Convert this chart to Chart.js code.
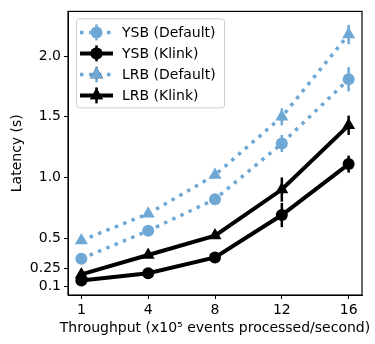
<!DOCTYPE html>
<html>
<head>
<meta charset="utf-8">
<script src="https://cdn.jsdelivr.net/npm/chart.js@4"></script>
<style>
  html, body { margin: 0; padding: 0; background: #ffffff; }
  #wrap { width: 375px; height: 344px; }
</style>
</head>
<body>
<div id="wrap"><canvas id="chart" width="375" height="344"></canvas></div>
<script>
// Throughput categories (x10^5 events/second)
const categories = ['1', '4', '8', '12', '16'];
const xTitle = 'Throughput (x10\u2075 events processed/second)';

// Latency (s) per series, with error bar half-heights
const ysbDefault = [0.33, 0.56, 0.82, 1.28, 1.81];
const ysbDefaultErr = [0.02, 0.03, 0.03, 0.07, 0.10];
const ysbKlink = [0.15, 0.21, 0.34, 0.69, 1.11];
const ysbKlinkErr = [0.02, 0.02, 0.02, 0.10, 0.07];
const lrbDefault = [0.48, 0.70, 1.02, 1.50, 2.18];
const lrbDefaultErr = [0.02, 0.02, 0.02, 0.07, 0.08];
const lrbKlink = [0.20, 0.36, 0.52, 0.90, 1.43];
const lrbKlinkErr = [0.02, 0.02, 0.02, 0.10, 0.08];

const yTicks = [0.1, 0.25, 0.5, 1.0, 1.5, 2.0];
const yTickLabels = ['0.1', '0.25', '0.5', '1.0', '1.5', '2.0'];

const blue = '#6fa8d4';
const black = '#000000';
const font = "'DejaVu Sans', sans-serif";

function toPoints(values) {
    return values.map((v, i) => ({ x: i, y: v }));
}

function series(label, values, errors, color, pointStyle, dotted) {
    return {
        label: label,
        data: toPoints(values),
        errors: errors,
        borderColor: color,
        backgroundColor: color,
        borderWidth: dotted ? 3.5 : 4,
        borderDash: dotted ? [3.5, 5.5] : [],
        borderCapStyle: 'butt',
        pointStyle: pointStyle,
        pointRadius: pointStyle === 'triangle' ? 7.5 : 6,
        pointBorderWidth: 0,
        pointBackgroundColor: color,
        tension: 0
    };
}

// vertical error bars, no caps
const errorBars = {
    id: 'errorBars',
    afterDatasetDraw(chart, args) {
        const ds = chart.data.datasets[args.index];
        const meta = args.meta;
        const y = chart.scales.y;
        const ctx = chart.ctx;
        ctx.save();
        ctx.strokeStyle = ds.borderColor;
        ctx.lineWidth = 2.5;
        ds.data.forEach((p, i) => {
            const pt = meta.data[i];
            const e = ds.errors[i];
            ctx.beginPath();
            ctx.moveTo(pt.x, y.getPixelForValue(p.y - e));
            ctx.lineTo(pt.x, y.getPixelForValue(p.y + e));
            ctx.stroke();
        });
        ctx.restore();
    }
};

// full box around the plot, plus the x title (wider than the axis, so not clipped)
const frame = {
    id: 'frame',
    afterDraw(chart) {
        const a = chart.chartArea;
        const ctx = chart.ctx;
        ctx.save();
        ctx.strokeStyle = '#000';
        ctx.lineWidth = 1.2;
        ctx.strokeRect(a.left, a.top, a.right - a.left, a.bottom - a.top);
        ctx.fillStyle = '#000';
        ctx.font = '14px ' + font;
        ctx.textAlign = 'center';
        ctx.textBaseline = 'middle';
        ctx.fillText(xTitle, (a.left + a.right) / 2, 328);
        ctx.restore();
    }
};

// matplotlib style legend in the upper left
const legendBox = {
    id: 'legendBox',
    afterDraw(chart) {
        const ctx = chart.ctx;
        const a = chart.chartArea;
        const x0 = a.left + 8, y0 = a.top + 7;
        const w = 148, h = 89;
        ctx.save();
        ctx.fillStyle = 'rgba(255,255,255,0.8)';
        ctx.strokeStyle = '#cccccc';
        ctx.lineWidth = 1;
        ctx.beginPath();
        ctx.roundRect(x0 + 0.5, y0 + 0.5, w, h, 3);
        ctx.fill();
        ctx.stroke();
        ctx.font = '14px ' + font;
        ctx.textBaseline = 'middle';
        chart.data.datasets.forEach((ds, i) => {
            const cy = y0 + 14 + i * 21;
            const lx = x0 + 4, rx = x0 + 37;
            ctx.strokeStyle = ds.borderColor;
            ctx.lineWidth = ds.borderWidth;
            ctx.setLineDash(ds.borderDash);
            ctx.lineCap = 'butt';
            ctx.beginPath();
            ctx.moveTo(lx, cy);
            ctx.lineTo(rx, cy);
            ctx.stroke();
            ctx.setLineDash([]);
            ctx.lineWidth = 2.5;
            ctx.beginPath();
            ctx.moveTo((lx + rx) / 2, cy - 8);
            ctx.lineTo((lx + rx) / 2, cy + 8);
            ctx.stroke();
            Chart.helpers.drawPoint(ctx, {
                pointStyle: ds.pointStyle,
                radius: ds.pointRadius,
                borderWidth: 0
            }, (lx + rx) / 2, cy);
            ctx.fillStyle = ds.backgroundColor;
            ctx.fill();
            ctx.fillStyle = '#000';
            ctx.fillText(ds.label, x0 + 46, cy + 1);
        });
        ctx.restore();
    }
};

new Chart(document.getElementById('chart'), {
    type: 'line',
    data: {
        datasets: [
            series('YSB (Default)', ysbDefault, ysbDefaultErr, blue, 'circle', true),
            series('YSB (Klink)', ysbKlink, ysbKlinkErr, black, 'circle', false),
            series('LRB (Default)', lrbDefault, lrbDefaultErr, blue, 'triangle', true),
            series('LRB (Klink)', lrbKlink, lrbKlinkErr, black, 'triangle', false)
        ]
    },
    options: {
        responsive: false,
        animation: false,
        layout: { padding: { left: 0, right: 13, top: 5, bottom: 0 } },
        plugins: {
            legend: { display: false },
            tooltip: { enabled: false }
        },
        scales: {
            x: {
                type: 'linear',
                min: -0.2,
                max: 4.2,
                afterBuildTicks(scale) {
                    scale.ticks = categories.map((c, i) => ({ value: i }));
                },
                afterFit(scale) { scale.height = 49; },
                ticks: {
                    color: '#000',
                    font: { family: font, size: 14 },
                    padding: 3,
                    maxRotation: 0,
                    callback: (v) => categories[v]
                },
                grid: { drawOnChartArea: false, tickLength: 4, tickColor: '#000' },
                border: { color: '#000', width: 1 },
                title: { display: false }
            },
            y: {
                min: 0.03,
                max: 2.37,
                afterBuildTicks(scale) {
                    scale.ticks = yTicks.map(v => ({ value: v }));
                },
                afterFit(scale) { scale.width = 68; },
                ticks: {
                    color: '#000',
                    font: { family: font, size: 14 },
                    padding: 3,
                    callback: (v) => yTickLabels[yTicks.indexOf(v)]
                },
                grid: { drawOnChartArea: false, tickLength: 4, tickColor: '#000' },
                border: { color: '#000', width: 1 },
                title: {
                    display: true,
                    text: 'Latency (s)',
                    color: '#000',
                    font: { family: font, size: 14 },
                    padding: { top: 9, bottom: 0 }
                }
            }
        }
    },
    plugins: [errorBars, frame, legendBox]
});
</script>
</body>
</html>
